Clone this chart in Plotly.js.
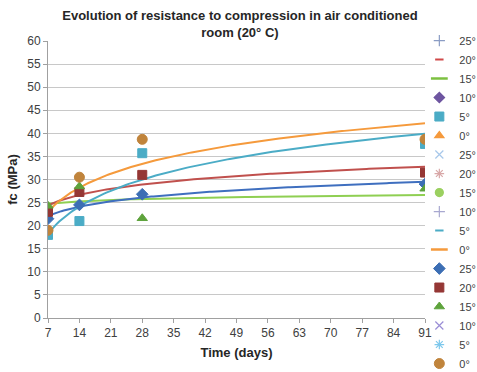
<!DOCTYPE html>
<html>
<head>
<meta charset="utf-8">
<script src="https://cdn.plot.ly/plotly-3.0.1.min.js"></script>
<style>html,body{margin:0;padding:0;background:#fff}#chart{width:477px;height:372px}</style>
</head>
<body>
<div id="chart"></div>
<script>
// Curing time (days)
const days = [7, 14, 28, 91];
const xTicks = [7, 14, 21, 28, 35, 42, 49, 56, 63, 70, 77, 84, 91];
// Compressive strength fc (MPa), per curing temperature
const fc25 = [21.5, 24.5, 26.8, 29.0];
const fc20 = [23.0, 27.3, 31.0, 31.5];
const fc15 = [24.3, 28.5, 21.6, 28.0];
const fc5  = [18.0, 21.0, 35.7, 37.7];
const fc0  = [19.0, 30.5, 38.7, 38.7];
const labels = ["25°", "20°", "15°", "10°", "5°", "0°"];

// logarithmic trendline (as in the spreadsheet), fitted from the data
function logFit(xs, ys) {
  const lx = xs.map(Math.log);
  const n = xs.length;
  const mx = lx.reduce((a, b) => a + b, 0) / n;
  const my = ys.reduce((a, b) => a + b, 0) / n;
  let sxy = 0, sxx = 0;
  for (let i = 0; i < n; i++) { sxy += (lx[i] - mx) * (ys[i] - my); sxx += (lx[i] - mx) ** 2; }
  const b = sxy / sxx, a = my - b * mx;
  const gx = [], gy = [];
  for (let x = xs[0]; x <= xs[n - 1] + 1e-9; x += 0.5) { gx.push(x); gy.push(a + b * Math.log(x)); }
  return {x: gx, y: gy};
}

const traces = [];
function dummy(name, sym, color, size, lw) {
  return {x: [null], y: [null], name: name, type: 'scatter', mode: 'markers',
    marker: {symbol: sym, size: size || 8, color: color, line: {color: color, width: lw || 1.2}}};
}
function data(name, ys, sym, color, size) {
  return {x: days, y: ys, name: name, type: 'scatter', mode: 'markers',
    marker: {symbol: sym, size: size || 9, color: color, line: {color: color, width: 1}}};
}
function trend(ys, color) {
  const f = logFit(days, ys);
  return {x: f.x, y: f.y, type: 'scatter', mode: 'lines', showlegend: false,
    line: {color: color, width: 2}, hoverinfo: 'skip'};
}

// trendlines first (drawn beneath markers)
traces.push(trend(fc15, '#8fcf52'));
traces.push(trend(fc25, '#3f6fbf'));
traces.push(trend(fc20, '#c0504d'));
traces.push(trend(fc5, '#4bacc6'));
traces.push(trend(fc0, '#f59a3c'));

// group 1
traces.push(dummy(labels[0], 'cross-thin-open', '#8a9cc4'));
traces.push(dummy(labels[1], 'line-ew-open', '#d04848', 6, 2));
traces.push(dummy(labels[2], 'line-ew-open', '#7cc040', 12, 2.5));
traces.push(dummy(labels[3], 'diamond', '#6e55a0'));
traces.push(data(labels[4], fc5, 'square', '#4bacc6', 9));
traces.push(dummy(labels[5], 'triangle-up', '#f59a3c'));
// group 2
traces.push(dummy(labels[0], 'x-thin-open', '#a8c8ea'));
traces.push(dummy(labels[1], 'asterisk-open', '#d8a8a8'));
traces.push(dummy(labels[2], 'circle', '#9bd060'));
traces.push(dummy(labels[3], 'cross-thin-open', '#a8a8d0'));
traces.push(dummy(labels[4], 'line-ew-open', '#4bacc6', 6, 2));
traces.push(dummy(labels[5], 'line-ew-open', '#f59a3c', 12, 2.5));
// group 3
traces.push(data(labels[0], fc25, 'diamond', '#3c6eb4', 9));
traces.push(data(labels[1], fc20, 'square', '#953735', 9));
traces.push(data(labels[2], fc15, 'triangle-up', '#5ea33c', 9));
traces.push(dummy(labels[3], 'x-thin-open', '#9b8fd6'));
traces.push(dummy(labels[4], 'asterisk-open', '#7ec8ec'));
traces.push(data(labels[5], fc0, 'circle', '#c0843c', 10));

const font = 'Liberation Sans, Arial, sans-serif';
const layout = {
  width: 477, height: 372,
  margin: {l: 48, r: 52, t: 41, b: 54, autoexpand: false},
  paper_bgcolor: '#fff', plot_bgcolor: '#fff',
  font: {family: font, size: 12, color: '#404040'},
  title: {text: '<b>Evolution of resistance to compression in air conditioned<br>room (20° C)</b>',
    font: {family: font, size: 13, color: '#262626'}, x: 0.503, xanchor: 'center', y: 0.945, yanchor: 'middle'},
  xaxis: {range: [7, 91], tickvals: xTicks, ticktext: xTicks.map(String),
    showgrid: false, zeroline: false, showline: true, linecolor: '#a0a0a0', linewidth: 1,
    ticks: 'outside', ticklen: 4, tickcolor: '#a0a0a0',
    tickfont: {family: font, size: 12, color: '#404040'},
    title: {text: '<b>Time (days)</b>', font: {family: font, size: 13, color: '#262626'}, standoff: 8}},
  yaxis: {range: [0, 60], dtick: 5, showgrid: true, gridcolor: '#c8c8c8', gridwidth: 1,
    zeroline: false, showline: true, linecolor: '#a0a0a0', linewidth: 1,
    ticks: 'outside', ticklen: 4, tickcolor: '#a0a0a0',
    tickfont: {family: font, size: 12, color: '#404040'},
    title: {text: '<b>fc (MPa)</b>', font: {family: font, size: 13, color: '#262626'}, standoff: 6}},
  legend: {x: 0.985, xanchor: 'left', y: 1.054, yanchor: 'top', tracegroupgap: 0, maxheight: 360,
    font: {family: font, size: 11, color: '#404040'}, bgcolor: 'rgba(0,0,0,0)', itemwidth: 30},
  showlegend: true
};
Plotly.newPlot('chart', traces, layout, {displayModeBar: false, staticPlot: true});
</script>
</body>
</html>
